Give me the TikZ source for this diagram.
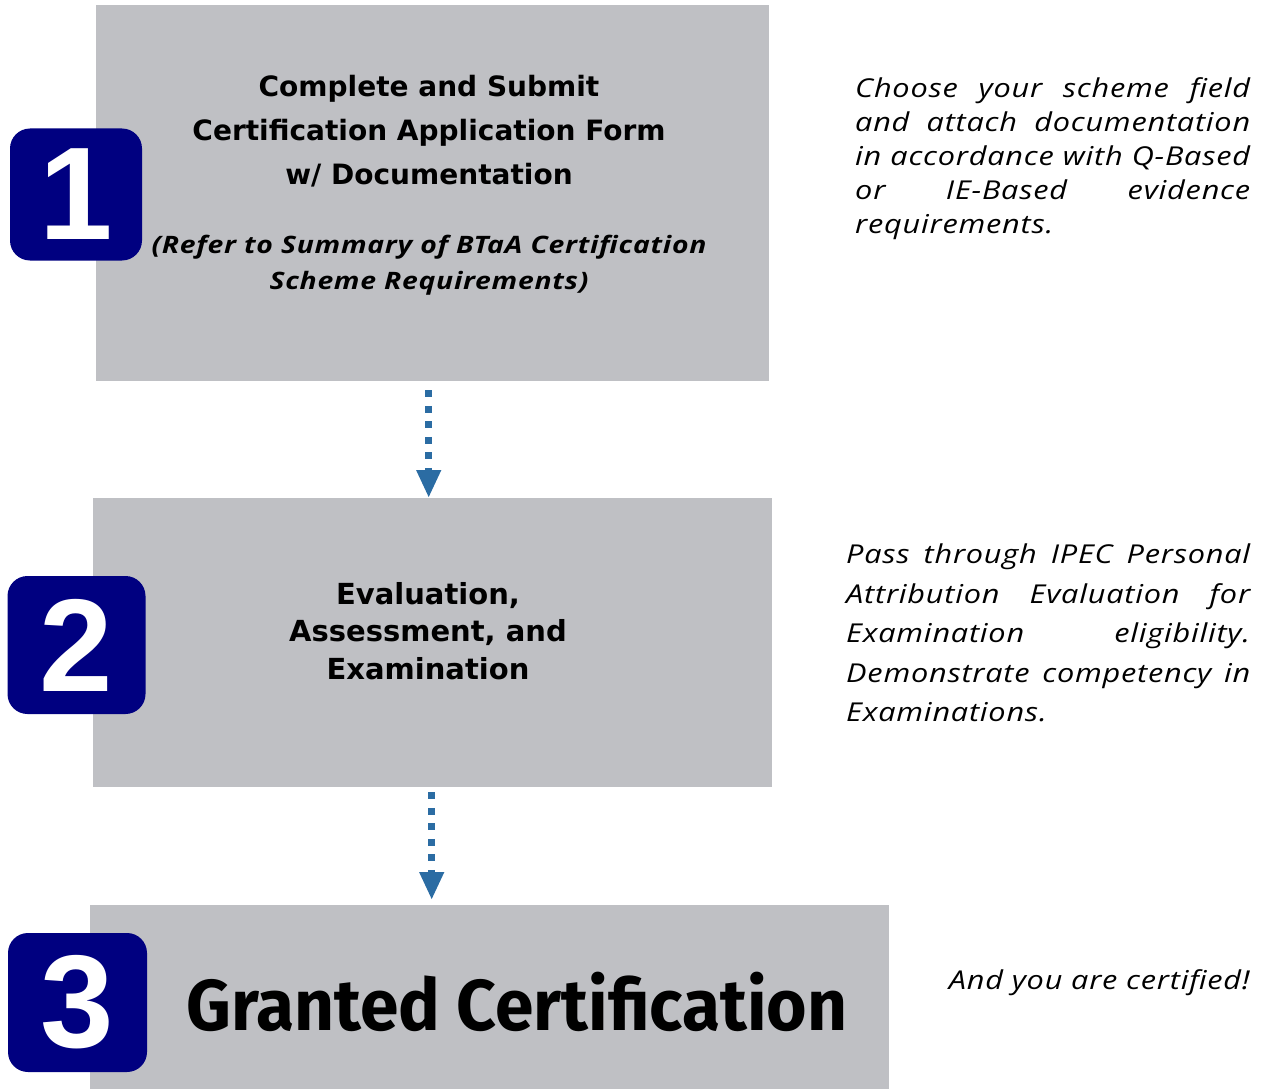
\documentclass[tikz,border=0pt]{standalone}
\usepackage{fontspec}
\setmainfont{DejaVu Sans}
\newfontfamily\notefont[FakeStretch=1.18,LetterSpace=3]{Open Sans}
\newfontfamily\bigfont[FakeStretch=0.965]{Fira Sans}
\newfontfamily\digitfont{Liberation Sans}
\usetikzlibrary{positioning,arrows.meta}

\definecolor{boxgray}{HTML}{BFC0C4}
\definecolor{badgenavy}{HTML}{000080}
\definecolor{arrowblue}{HTML}{2B6CA3}

\begin{document}
\begin{tikzpicture}[
  x=1pt,
  y=-1pt,
  stepbox/.style={
    fill=boxgray,
    inner sep=0pt,
    anchor=north west
  },
  badge/.style={
    fill=badgenavy,
    rounded corners=20pt,
    inner sep=0pt,
    text=white,
    font=\digitfont\bfseries\fontsize{132}{132}\selectfont
  },
  title/.style={
    align=center,
    inner sep=0pt,
    font=\bfseries\fontsize{28}{44}\selectfont
  },
  note/.style={
    align=justify,
    inner sep=0pt,
    anchor=north west,
    font=\notefont\itshape\fontsize{26}{34}\selectfont
  },
  flow/.style={
    arrowblue,
    line width=7pt,
    dash pattern=on 7pt off 8.5pt,
    -{Triangle[width=23pt,length=28pt]}
  }
]
  \useasboundingbox (0,0) rectangle (1261,1089);

  % step boxes
  \node[stepbox, minimum width=673pt, minimum height=376pt] (box1) at (96,5) {};
  \node[stepbox, minimum width=679pt, minimum height=289pt] (box2) at (93,498) {};
  \node[stepbox, minimum width=799pt, minimum height=184pt] (box3) at (90,905) {};

  % box texts
  \node[title] (title1) at (429,131)
    {Complete and Submit\\Certification Application Form\\w/ Documentation};
  \node[title, font=\notefont\bfseries\itshape\fontsize{24}{36}\selectfont] (ref1) at (429,265)
    {(Refer to Summary of BTaA Certification\\Scheme Requirements)};
  \node[title, font=\bfseries\fontsize{29}{37.5}\selectfont] (title2) at (428,631)
    {Evaluation,\\Assessment, and\\Examination};
  \node[title, font=\bigfont\bfseries\fontsize{72}{72}\selectfont] (title3) at (517,1002)
    {Granted Certification};

  % number badges
  \node[badge, minimum size=132pt] (badge1) at (76,194.5) {1};
  \node[badge, minimum size=138pt] (badge2) at (76.5,645) {2};
  \node[badge, minimum size=139pt] (badge3) at (77.5,1002.5) {3};

  % arrows
  \draw[flow, shorten <=9pt] ([xshift=-4pt]box1.south) -- ([xshift=-4pt]box1.south |- box2.north);
  \draw[flow, shorten <=5pt, shorten >=5pt] ([xshift=-1pt]box2.south) -- ([xshift=-1pt]box2.south |- box3.north);

  % side notes
  \node[note, text width=395pt] (note1) at (855,77)
    {Choose your scheme field\linebreak and attach documentation\linebreak in accordance with Q-Based\linebreak or IE-Based evidence\linebreak requirements.};
  \node[note, text width=404pt, font=\notefont\itshape\fontsize{26}{39.5}\selectfont] (note2) at (846,544)
    {Pass through IPEC Personal\linebreak Attribution Evaluation for\linebreak Examination eligibility.\linebreak Demonstrate competency in\linebreak Examinations.};
  \node[note, anchor=base east] (note3) at (1250,989) {And you are certified!};
\end{tikzpicture}
\end{document}
